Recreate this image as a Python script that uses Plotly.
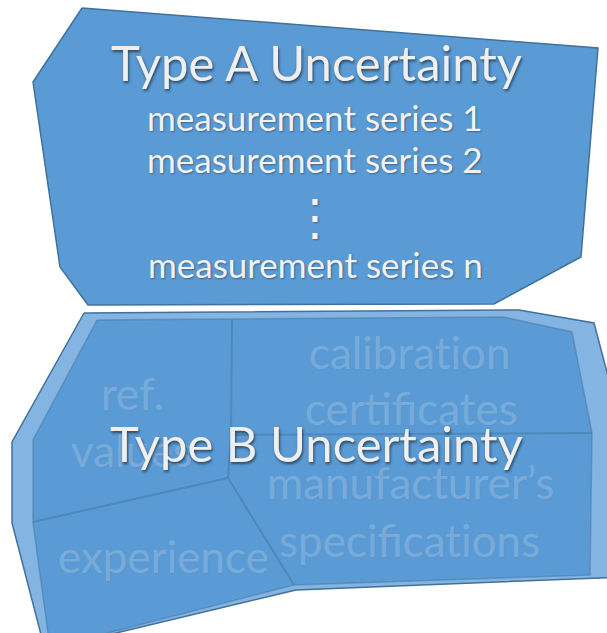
import plotly.graph_objects as go

# ---- diagram data (pixel-space outline vertices) ----
typeA_x = [82, 598, 581, 494, 88, 60, 33, 82]
typeA_y = [8, 48, 257, 304, 305, 267, 82, 8]

typeB_outer_x = [84, 519, 594, 625, 625, 296, 45, 12, 12, 84]
typeB_outer_y = [313, 310, 323, 440, 577, 590, 650, 523, 442, 313]

typeB_inner_x = [97, 503, 572, 592, 590, 294, 50, 33, 33, 97]
typeB_inner_y = [320, 317, 332, 433, 575, 585, 648, 523, 440, 320]

divider1_x = [232, 231, 228]
divider1_y = [320, 435, 478]
divider2_x = [231, 592]
divider2_y = [435, 433]
divider3_x = [33, 228, 294]
divider3_y = [522, 478, 585]

titles = ["Type A Uncertainty", "Type B Uncertainty"]
title_x = [316, 316]
title_y = [62, 443]

seriesA = ["measurement series 1", "measurement series 2", "⋮", "measurement series n"]
seriesA_x = [315, 315, 315, 315]
seriesA_y = [117, 159, 215, 264]

# U+200C keeps the font from fusing "ti" into a ligature
sourcesB = ["ref.", "values", "calibrat\u200cion", "certificates",
            "manufacturer’s", "specificat\u200cions", "experience"]
sourcesB_x = [132, 131, 410, 411, 410, 409, 163]
sourcesB_y = [393, 450, 352, 408, 482, 540, 556]

FONT = "Lato, 'Open Sans', sans-serif"
BLUE = "#5b9bd5"
LIGHT = "#84b4e1"
EDGE = "#41719c"

fig = go.Figure()

fig.add_trace(go.Scatter(x=typeA_x, y=typeA_y, mode="lines", fill="toself",
                         fillcolor=BLUE, line=dict(color=EDGE, width=1.5),
                         hoverinfo="skip", showlegend=False))
fig.add_trace(go.Scatter(x=typeB_outer_x, y=typeB_outer_y, mode="lines", fill="toself",
                         fillcolor=LIGHT, line=dict(color=EDGE, width=1.5),
                         hoverinfo="skip", showlegend=False))
fig.add_trace(go.Scatter(x=typeB_inner_x, y=typeB_inner_y, mode="lines", fill="toself",
                         fillcolor=BLUE, line=dict(color="rgba(65,113,156,0.45)", width=1.5),
                         hoverinfo="skip", showlegend=False))
for dx, dy in [(divider1_x, divider1_y), (divider2_x, divider2_y), (divider3_x, divider3_y)]:
    fig.add_trace(go.Scatter(x=dx, y=dy, mode="lines",
                             line=dict(color="rgba(65,113,156,0.45)", width=2),
                             hoverinfo="skip", showlegend=False))

annotations = []
for t, x, y in zip(sourcesB, sourcesB_x, sourcesB_y):
    annotations.append(dict(text=t, x=x, y=y, xref="x", yref="y", showarrow=False,
                            font=dict(family=FONT, size=44, color="rgba(255,255,255,0.2)",
                                      shadow="1px 1px 2px rgba(0,0,0,0.12)")))
for t, x, y in zip(seriesA, seriesA_x, seriesA_y):
    size = 50 if t == "⋮" else 35
    annotations.append(dict(text=t, x=x, y=y, xref="x", yref="y", showarrow=False,
                            font=dict(family=FONT, size=size, color="#f2f2f2",
                                      shadow="1px 1px 2px rgba(0,0,0,0.35)")))
for t, x, y in zip(titles, title_x, title_y):
    annotations.append(dict(text=t, x=x, y=y, xref="x", yref="y", showarrow=False,
                            font=dict(family=FONT, size=49, color="#efefef",
                                      shadow="1px 2px 3px rgba(0,0,0,0.55)")))

fig.update_layout(
    width=607, height=633,
    margin=dict(l=0, r=0, t=0, b=0),
    paper_bgcolor="white", plot_bgcolor="white",
    xaxis=dict(range=[0, 607], visible=False, fixedrange=True),
    yaxis=dict(range=[633, 0], visible=False, fixedrange=True),
    annotations=annotations,
)

fig.write_html(
    "out.html",
    config={"displayModeBar": False},
    post_script="document.body.style.margin='0';document.body.style.overflow='hidden';",
)
